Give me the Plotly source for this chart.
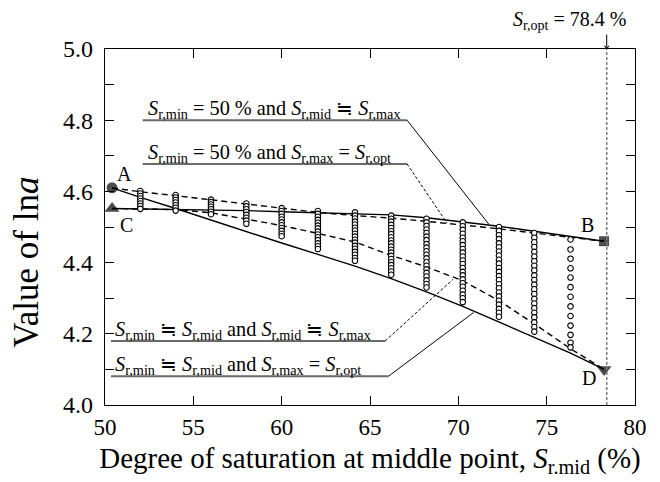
import plotly.graph_objects as go

# ---------------- data ----------------
x_cols = [52.0, 54.0, 56.0, 58.0, 60.0, 62.05, 64.15, 66.2, 68.2, 70.25, 72.3, 74.3, 76.35]

col_52 = [4.601, 4.594, 4.587, 4.580, 4.573, 4.566, 4.559, 4.551]
col_54 = [4.590, 4.583, 4.576, 4.569, 4.561, 4.554, 4.546]
col_56 = [4.577, 4.570, 4.563, 4.557, 4.550, 4.543, 4.536]
col_58 = [4.566, 4.558, 4.550, 4.542, 4.534, 4.526, 4.518, 4.509]
col_60 = [4.553, 4.545, 4.537, 4.529, 4.521, 4.513, 4.505, 4.497, 4.489, 4.481, 4.474]
col_62 = [4.545, 4.537, 4.529, 4.520, 4.512, 4.504, 4.496, 4.487, 4.479, 4.471, 4.463,
          4.454, 4.446, 4.438]
col_64 = [4.541, 4.532, 4.524, 4.515, 4.507, 4.498, 4.490, 4.481, 4.473, 4.464, 4.456,
          4.447, 4.439, 4.430, 4.422, 4.413, 4.405]
col_66 = [4.532, 4.523, 4.515, 4.506, 4.497, 4.488, 4.480, 4.471, 4.462, 4.454, 4.445,
          4.436, 4.428, 4.419, 4.410, 4.401, 4.393, 4.384, 4.375, 4.366]
col_68 = [4.523, 4.513, 4.503, 4.493, 4.483, 4.473, 4.463, 4.452, 4.442, 4.432, 4.422,
          4.412, 4.401, 4.391, 4.381, 4.371, 4.361, 4.350, 4.340, 4.330]
col_70 = [4.513, 4.502, 4.492, 4.481, 4.470, 4.460, 4.449, 4.438, 4.428, 4.417, 4.406,
          4.396, 4.385, 4.374, 4.364, 4.353, 4.342, 4.332, 4.321, 4.310, 4.300, 4.289]
col_72 = [4.500, 4.489, 4.477, 4.466, 4.454, 4.443, 4.431, 4.420, 4.408, 4.397, 4.385,
          4.374, 4.362, 4.351, 4.339, 4.328, 4.316, 4.305, 4.293, 4.282, 4.270, 4.259, 4.248]
col_74 = [4.483, 4.470, 4.457, 4.444, 4.430, 4.417, 4.404, 4.391, 4.378, 4.364, 4.351,
          4.338, 4.325, 4.312, 4.298, 4.285, 4.272, 4.259, 4.246, 4.232, 4.219, 4.206]
col_76 = [4.465, 4.437, 4.411, 4.384, 4.358, 4.331, 4.304, 4.277, 4.250, 4.223, 4.197,
          4.175, 4.162]
col_values = [col_52, col_54, col_56, col_58, col_60, col_62, col_64, col_66, col_68,
              col_70, col_72, col_74, col_76]

x_line = [50.4, 52.0, 54.0, 56.0, 58.0, 60.0, 62.05, 64.15, 66.2, 68.2, 70.25, 72.3, 74.3, 76.35, 78.25]
y_upper_solid = [4.552, 4.551, 4.550, 4.549, 4.546, 4.543, 4.540, 4.539, 4.534, 4.526, 4.515,
                 4.502, 4.488, 4.474, 4.460]
y_upper_dashed = [4.610, 4.599, 4.588, 4.576, 4.565, 4.554, 4.541, 4.532, 4.525, 4.516, 4.506,
                  4.495, 4.483, 4.471, 4.460]
y_lower_solid = [4.610, 4.583, 4.552, 4.519, 4.487, 4.455, 4.423, 4.390, 4.355, 4.318, 4.277,
                 4.233, 4.190, 4.146, 4.100]
y_lower_dashed = [4.552, 4.551, 4.549, 4.540, 4.523, 4.504, 4.482, 4.458, 4.420, 4.388, 4.349,
                  4.293, 4.228, 4.158, 4.100]

point_names = ["A", "C", "B", "D"]
point_x = [50.4, 50.4, 78.25, 78.25]
point_y = [4.610, 4.552, 4.460, 4.100]

sr_opt = 78.4

x_tick_vals = [50, 55, 60, 65, 70, 75, 80]
x_tick_text = ["50", "55", "60", "65", "70", "75", "80"]
y_tick_vals = [4.0, 4.1, 4.2, 4.3, 4.4, 4.5, 4.6, 4.7, 4.8, 4.9, 5.0]
y_tick_text = ["4.0", "", "4.2", "", "4.4", "", "4.6", "", "4.8", "", "5.0"]

# ---------------- figure ----------------
FONT = "Liberation Serif"
fig = go.Figure()

line_w = 1.4
fig.add_trace(go.Scatter(x=x_line, y=y_upper_solid, mode="lines",
                         line=dict(color="black", width=line_w), showlegend=False))
fig.add_trace(go.Scatter(x=x_line, y=y_lower_solid, mode="lines",
                         line=dict(color="black", width=line_w), showlegend=False))
fig.add_trace(go.Scatter(x=x_line, y=y_upper_dashed, mode="lines",
                         line=dict(color="black", width=line_w, dash="6px,4px"), showlegend=False))
fig.add_trace(go.Scatter(x=x_line, y=y_lower_dashed, mode="lines",
                         line=dict(color="black", width=line_w, dash="6px,4px"), showlegend=False))

cx, cy = [], []
for xv, vals in zip(x_cols, col_values):
    for v in vals:
        cx.append(xv)
        cy.append(v)
fig.add_trace(go.Scatter(x=cx, y=cy, mode="markers",
                         marker=dict(symbol="circle", size=5.5, color="white",
                                     line=dict(color="black", width=1.1)),
                         showlegend=False))

symbols = ["circle", "triangle-up", "square", "triangle-down"]
sizes = [11, 13, 10, 13]
fig.add_trace(go.Scatter(x=point_x, y=point_y, mode="markers",
                         marker=dict(symbol=symbols, size=sizes, color="black",
                                     line=dict(width=0)),
                         cliponaxis=False, showlegend=False))

# vertical Sr,opt line
fig.add_shape(type="line", x0=sr_opt, x1=sr_opt, y0=4.0, y1=5.0, xref="x", yref="y",
              line=dict(color="#7a7a7a", width=1.5, dash="3px,2px"))

# point letters
letter_pos = {"A": (51.1, 4.648), "C": (51.2, 4.506), "B": (77.3, 4.506), "D": (77.4, 4.075)}
for name in point_names:
    lx, ly = letter_pos[name]
    fig.add_annotation(x=lx, y=ly, text=name, showarrow=False,
                       font=dict(family=FONT, size=20, color="black"))

S = "<i>S</i>"
ne = "\u2252"
labels = [
    (S + "<sub>r,min</sub> = 50 % and " + S + "<sub>r,mid</sub> " + ne + " " + S + "<sub>r,max</sub>", 52.3, 4.800),
    (S + "<sub>r,min</sub> = 50 % and " + S + "<sub>r,max</sub> = " + S + "<sub>r,opt</sub>", 52.3, 4.677),
    (S + "<sub>r,min</sub> " + ne + " " + S + "<sub>r,mid</sub> and " + S + "<sub>r,mid</sub> " + ne + " " + S + "<sub>r,max</sub>", 50.45, 4.180),
    (S + "<sub>r,min</sub> " + ne + " " + S + "<sub>r,mid</sub> and " + S + "<sub>r,max</sub> = " + S + "<sub>r,opt</sub>", 50.45, 4.081),
]
for txt, lx, ly in labels:
    fig.add_annotation(x=lx, y=ly, text=txt, showarrow=False, xanchor="left", yanchor="bottom",
                       yshift=-4, font=dict(family=FONT, size=20.3, color="black"))

# underlines
underline_col = "#6a6a6a"
for x0, x1, yv in [(52.13, 67.1, 4.800), (52.13, 67.1, 4.677), (50.34, 65.86, 4.180), (50.34, 66.05, 4.081)]:
    fig.add_shape(type="line", x0=x0, x1=x1, y0=yv, y1=yv, xref="x", yref="y",
                  line=dict(color=underline_col, width=2))
# leaders
fig.add_shape(type="line", x0=67.1, y0=4.800, x1=71.72, y1=4.508, line=dict(color="black", width=1))
fig.add_shape(type="line", x0=67.1, y0=4.677, x1=69.36, y1=4.511, line=dict(color="black", width=1, dash="3px,2px"))
fig.add_shape(type="line", x0=65.86, y0=4.180, x1=69.7, y1=4.353, line=dict(color="black", width=1, dash="3px,2px"))
fig.add_shape(type="line", x0=66.05, y0=4.081, x1=70.87, y1=4.260, line=dict(color="black", width=1))

# Sr,opt label and arrow
fig.add_annotation(x=76.3, y=1.079, xref="x", yref="paper", yanchor="middle",
                   text=S + "<sub>r,opt</sub> = 78.4 %", showarrow=False,
                   font=dict(family=FONT, size=20, color="black"))
fig.add_annotation(x=sr_opt, y=5.0, xref="x", yref="y", text="", showarrow=True,
                   ax=0, ay=-16, arrowhead=4, arrowsize=0.9, arrowwidth=1, arrowcolor="black")

# y-axis title (placed lower than centre, as in the reference)
fig.add_annotation(x=-0.147, xref="paper", y=4.40, yref="y", text="Value of ln<i>a</i>",
                   textangle=-90, showarrow=False, xanchor="center", yanchor="middle",
                   font=dict(family=FONT, size=35, color="black"))

axis_common = dict(showline=True, linecolor="black", linewidth=1.3, mirror="ticks",
                   ticks="inside", ticklen=9, tickwidth=1.2, tickcolor="black",
                   showgrid=False, zeroline=False, automargin=False)

fig.update_xaxes(range=[50, 80], tickvals=x_tick_vals, ticktext=x_tick_text,
                 tickfont=dict(family=FONT, size=23, color="black"),
                 title=dict(text="Degree of saturation at middle point, " + S + "<sub>r.mid</sub> (%)",
                            font=dict(family=FONT, size=29, color="black"), standoff=8),
                 ticklabelstandoff=1, **axis_common)
fig.update_yaxes(range=[4.0, 5.0], tickvals=y_tick_vals, ticktext=y_tick_text,
                 tickfont=dict(family=FONT, size=24, color="black"),
                 ticklabelstandoff=6, **axis_common)

# page body adds an 8 px offset; size the figure so the plot area lands where the reference has it
fig.update_layout(width=652, height=474, margin=dict(l=97, r=25, t=41, b=77, autoexpand=False),
                  paper_bgcolor="white", plot_bgcolor="white",
                  font=dict(family=FONT, color="black"))

fig.write_html("out.html")
